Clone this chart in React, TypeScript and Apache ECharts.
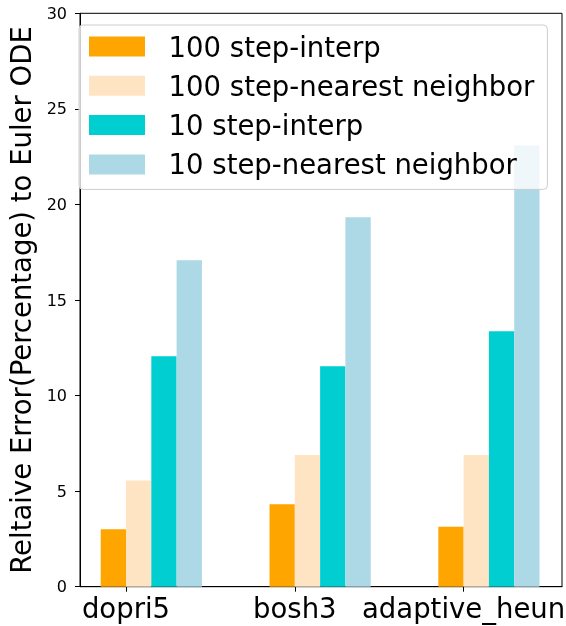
import React, { useEffect, useRef } from "react";
import * as echarts from "echarts";

const categories = ["dopri5", "bosh3", "adaptive_heun"];
const seriesNames = [
  "100 step-interp",
  "100 step-nearest neighbor",
  "10 step-interp",
  "10 step-nearest neighbor",
];
const interp100 = [3.0, 4.31, 3.14];
const nearest100 = [5.55, 6.89, 6.89];
const interp10 = [12.06, 11.53, 13.36];
const nearest10 = [17.08, 19.33, 23.08];
const seriesValues = [interp100, nearest100, interp10, nearest10];
const colors = ["#FFA500", "#FFE4C4", "#00CED1", "#ADD8E6"];
const yTicks = [0, 5, 10, 15, 20, 25, 30];

export default function App() {
  const ref = useRef<HTMLDivElement>(null);
  useEffect(() => {
    if (!ref.current) return;
    const chart = echarts.init(ref.current, undefined, { renderer: "svg" });
    const font = "DejaVu Sans";
    const groupOffset = 0.15;
    chart.setOption({
      animation: false,
      textStyle: { fontFamily: font },
      grid: {
        left: 80,
        right: 4,
        top: 13.3,
        bottom: 39.3,
        containLabel: false,
        outerBoundsMode: "none",
        show: true,
        borderColor: "#000",
        borderWidth: 1,
        backgroundColor: "transparent",
      },
      legend: {
        orient: "vertical",
        left: 79,
        top: 25,
        padding: [7.5, 13, 11, 10],
        itemWidth: 56,
        itemHeight: 20,
        itemGap: 11.3,
        icon: "rect",
        backgroundColor: "rgba(255,255,255,0.8)",
        borderColor: "#cccccc",
        borderWidth: 1,
        borderRadius: 4,
        textStyle: {
          fontFamily: font,
          fontSize: 27.5,
          color: "#000",
          padding: [0, 0, 0, 18.6],
        },
        data: seriesNames,
        z: 10,
      },
      xAxis: {
        type: "value",
        min: -0.2725,
        max: 2.583,
        splitLine: { show: false },
        axisLine: { show: true, onZero: false, lineStyle: { color: "#000", width: 1 } },
        axisTick: {
          show: true,
          inside: false,
          length: 5,
          customValues: [0, 1, 2],
          lineStyle: { color: "#000" },
        },
        axisLabel: {
          customValues: [0, 1, 2],
          formatter: (v: number) => categories[Math.round(v)] ?? "",
          fontSize: 27.5,
          color: "#000",
          margin: 7,
          fontFamily: font,
        },
      },
      yAxis: {
        type: "value",
        min: 0,
        max: 30,
        interval: 5,
        name: "Reltaive Error(Percentage) to Euler ODE",
        nameLocation: "middle",
        nameGap: 45,
        nameTextStyle: { fontSize: 27.5, color: "#000", fontFamily: font },
        splitLine: { show: false },
        axisLine: { show: true, onZero: false, lineStyle: { color: "#000", width: 1 } },
        axisTick: { show: true, inside: false, length: 5, lineStyle: { color: "#000" } },
        axisLabel: {
          fontSize: 16,
          color: "#000",
          margin: 13,
          fontFamily: font,
          formatter: (v: number) => (yTicks.includes(v) ? String(v) : ""),
        },
      },
      series: seriesNames.map((name, s) => ({
        name,
        type: "bar",
        barWidth: 25.3,
        barGap: "0%",
        itemStyle: { color: colors[s] },
        data: categories.map((_, i) => [i + groupOffset, seriesValues[s][i]]),
      })),
    });
    return () => chart.dispose();
  }, []);
  return (
    <div
      ref={ref}
      style={{ position: "fixed", left: 0, top: 0, width: 566, height: 626 }}
    />
  );
}
